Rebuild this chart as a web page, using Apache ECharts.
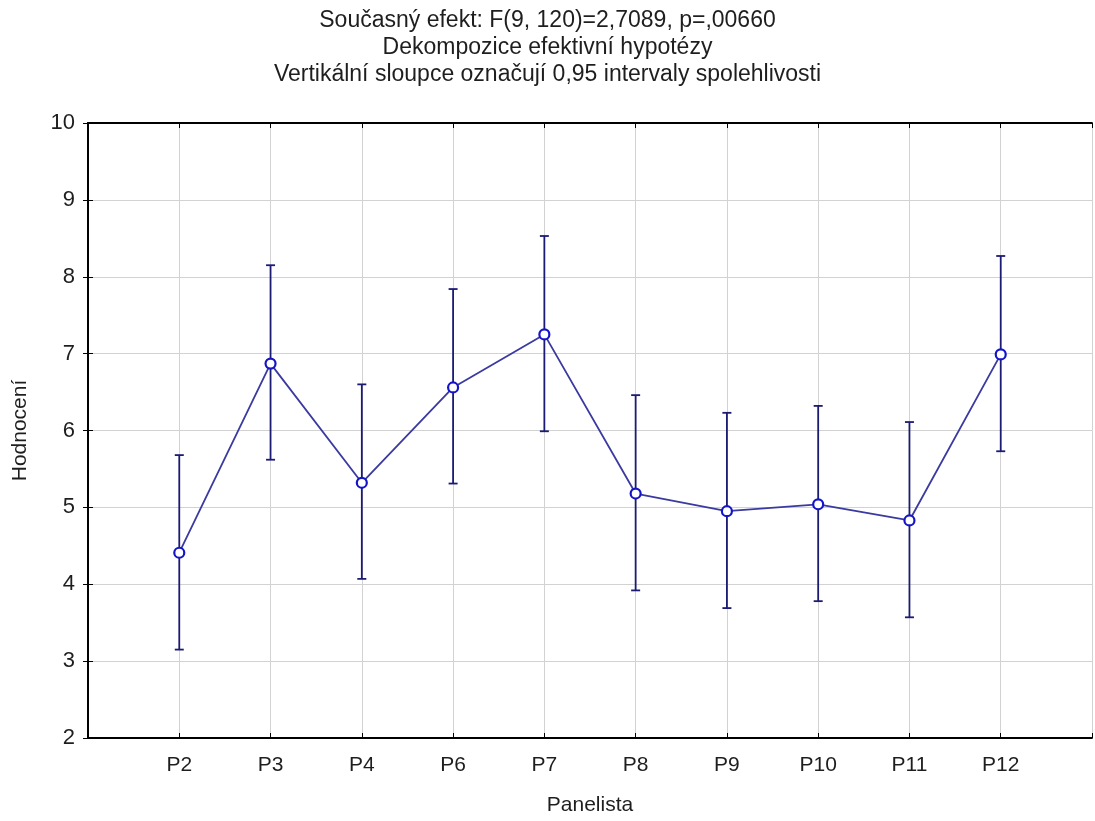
<!DOCTYPE html>
<html>
<head>
<meta charset="utf-8">
<script src="https://cdn.jsdelivr.net/npm/echarts@6/dist/echarts.min.js"></script>
<style>
  html, body { margin: 0; padding: 0; background: #ffffff; }
  #chart { width: 1095px; height: 821px; }
</style>
</head>
<body>
<div id="chart"></div>
<script>
// Panel members and their mean ratings with 0.95 confidence limits
const panelists = ['P2', 'P3', 'P4', 'P6', 'P7', 'P8', 'P9', 'P10', 'P11', 'P12'];
const means = [4.41, 6.87, 5.32, 6.56, 7.25, 5.18, 4.95, 5.04, 4.83, 6.99];
const lower = [3.15, 5.62, 4.07, 5.31, 5.99, 3.92, 3.69, 3.78, 3.57, 5.73];
const upper = [5.68, 8.15, 6.60, 7.84, 8.53, 6.46, 6.23, 6.32, 6.11, 8.27];
const yTicks = [2, 3, 4, 5, 6, 7, 8, 9, 10];

const titleLines = [
  'Současný efekt: F(9, 120)=2,7089, p=,00660',
  'Dekompozice efektivní hypotézy',
  'Vertikální sloupce označují 0,95 intervaly spolehlivosti'
];

const FONT = 'Liberation Sans, Arial, sans-serif';
const TEXT = '#1e1e1e';

// Panelists sit at positions 1..n on a numeric axis with a free slot at each end
const pos = panelists.map((_, i) => i + 1);
const xMax = panelists.length + 1;

const meanData = pos.map((x, i) => [x, means[i]]);
const barData = pos.map((x, i) => [x, lower[i], upper[i]]);

const chart = echarts.init(document.getElementById('chart'));

const frameAxisLine = { show: true, lineStyle: { color: '#000', width: 1.8 } };
const innerTick = { show: true, inside: true, length: 5, lineStyle: { color: '#000', width: 1 } };
const grid = { lineStyle: { color: '#d2d2d2', width: 1 } };

chart.setOption({
  animation: false,
  backgroundColor: '#ffffff',
  title: {
    text: titleLines.join('\n'),
    left: 'center',
    top: 2,
    textStyle: {
      fontFamily: FONT,
      fontSize: 23,
      fontWeight: 'normal',
      color: TEXT,
      lineHeight: 27
    }
  },
  grid: { left: 88, right: 2, top: 123, bottom: 81 },
  xAxis: [
    {
      type: 'value',
      min: 0,
      max: xMax,
      interval: 1,
      position: 'bottom',
      name: 'Panelista',
      nameLocation: 'middle',
      nameGap: 57,
      nameTextStyle: { fontFamily: FONT, fontSize: 21, color: TEXT },
      axisLine: frameAxisLine,
      axisTick: innerTick,
      splitLine: Object.assign({ show: true }, grid),
      axisLabel: {
        margin: 17,
        fontFamily: FONT,
        fontSize: 21,
        color: TEXT,
        formatter: v => panelists[v - 1] || ''
      }
    },
    {
      type: 'value',
      min: 0,
      max: xMax,
      interval: 1,
      position: 'top',
      axisLine: frameAxisLine,
      axisTick: innerTick,
      splitLine: { show: false },
      axisLabel: { show: false }
    }
  ],
  yAxis: [
    {
      type: 'value',
      min: yTicks[0],
      max: yTicks[yTicks.length - 1],
      interval: 1,
      position: 'left',
      name: 'Hodnocení',
      nameLocation: 'middle',
      nameGap: 57,
      nameTextStyle: { fontFamily: FONT, fontSize: 21, color: TEXT },
      axisLine: frameAxisLine,
      axisTick: innerTick,
      splitLine: Object.assign({ show: true }, grid),
      axisLabel: { margin: 13, fontFamily: FONT, fontSize: 22, color: TEXT }
    },
    {
      type: 'value',
      min: yTicks[0],
      max: yTicks[yTicks.length - 1],
      interval: 1,
      position: 'right',
      axisLine: frameAxisLine,
      axisTick: innerTick,
      splitLine: { show: false },
      axisLabel: { show: false }
    }
  ],
  series: [
    {
      // confidence-interval whiskers
      type: 'custom',
      z: 2,
      data: barData,
      renderItem: function (params, api) {
        const x = api.value(0);
        const lo = api.coord([x, api.value(1)]);
        const hi = api.coord([x, api.value(2)]);
        const cap = 4.5;
        const style = { stroke: '#1b1b74', lineWidth: 1.8 };
        return {
          type: 'group',
          children: [
            { type: 'line', shape: { x1: lo[0], y1: lo[1], x2: hi[0], y2: hi[1] }, style: style },
            { type: 'line', shape: { x1: hi[0] - cap, y1: hi[1], x2: hi[0] + cap, y2: hi[1] }, style: style },
            { type: 'line', shape: { x1: lo[0] - cap, y1: lo[1], x2: lo[0] + cap, y2: lo[1] }, style: style }
          ]
        };
      }
    },
    {
      type: 'line',
      z: 3,
      data: meanData,
      lineStyle: { color: '#3a3aa0', width: 1.8 },
      symbol: 'circle',
      symbolSize: 10,
      itemStyle: { color: '#ffffff', borderColor: '#1414c8', borderWidth: 2.2 }
    }
  ]
});
</script>
</body>
</html>
